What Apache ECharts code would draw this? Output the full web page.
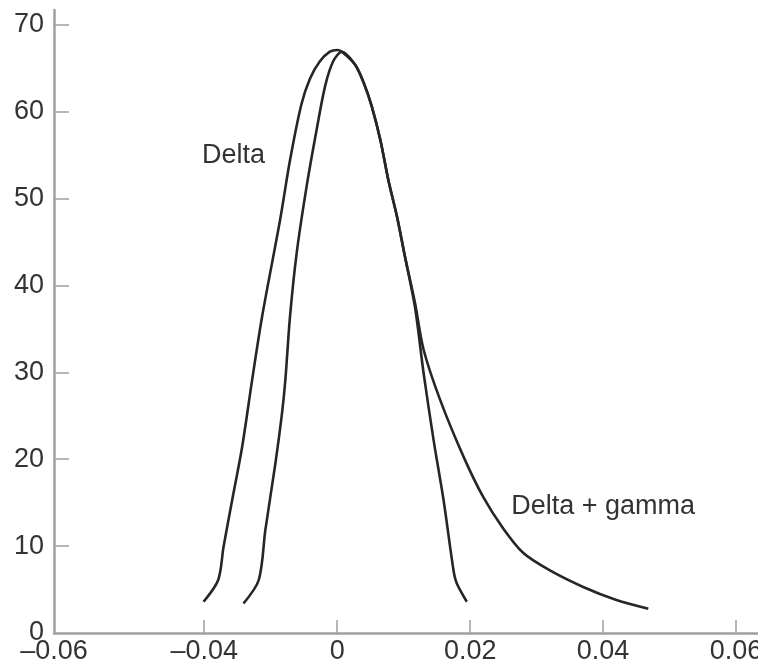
<!DOCTYPE html>
<html>
<head>
<meta charset="utf-8">
<script src="https://cdn.jsdelivr.net/npm/echarts@6/dist/echarts.min.js"></script>
<style>
  html, body { margin: 0; padding: 0; background: #fff; }
  #chart { width: 758px; height: 669px; }
</style>
</head>
<body>
<div id="chart"></div>
<script>
// Delta-only distribution (symmetric)
var deltaX = [-0.0201, -0.0179, -0.0171, -0.0156, -0.0143, -0.0128, -0.0113, -0.0086, -0.0071,
              -0.0054, -0.0041, -0.0026, -0.0011, 0.0000, 0.0007, 0.0027, 0.0040, 0.0052,
              0.0065, 0.0077, 0.0090, 0.0102, 0.0117, 0.0130, 0.0145, 0.0160,
              0.0175, 0.0180, 0.0195];
var deltaY = [3.6, 6.1, 9.9, 16.1, 21.4, 29.1, 36.4, 47.5, 54.4,
              60.8, 63.8, 65.8, 66.9, 67.1, 66.9, 65.4, 63.3, 60.6,
              56.7, 52.1, 47.9, 43.3, 37.5, 29.9, 22.2, 15.3,
              7.2, 5.7, 3.6];

// Delta + gamma distribution (skewed to the right)
var gammaX = [-0.0141, -0.0118, -0.0108, -0.0093, -0.0083, -0.0078, -0.0071, -0.0061, -0.0046,
              -0.0031, -0.0018, -0.0006, 0.0007, 0.0027, 0.0040, 0.0052, 0.0065, 0.0077,
              0.0090, 0.0102, 0.0117, 0.0130, 0.0155, 0.0190, 0.0220, 0.0250,
              0.0280, 0.0320, 0.0370, 0.0420, 0.0468];
var gammaY = [3.4, 6.1, 11.9, 19.5, 25.3, 29.1, 36.4, 43.7, 51.4,
              57.9, 63.0, 65.8, 66.9, 65.4, 63.3, 60.6, 56.7, 52.1,
              47.9, 43.3, 38.0, 32.6, 26.8, 20.3, 15.6, 12.0,
              9.2, 7.2, 5.3, 3.8, 2.8];

// Horizontal axis: tick positions and the text printed under them
var xMin = -0.0426;
var xMax = 0.0633;
var xTickValues = [-0.02, 0, 0.02, 0.04, 0.06];
var xLabelValues = [xMin, -0.02, 0, 0.02, 0.04, 0.06];
var xTickLabels = ['\u20130.06', '\u20130.04', '0', '0.02', '0.04', '0.06'];

// Vertical axis
var yMax = 71.7;
var yTickValues = [10, 20, 30, 40, 50, 60, 70];
var yLabelValues = [0, 10, 20, 30, 40, 50, 60, 70];

// Curve annotations
var seriesNames = ['Delta', 'Delta + gamma'];
var nameAnchors = [[-0.0156, 55.0], [0.0400, 14.5]];

function zip(xs, ys) {
  return xs.map(function (x, i) { return [x, ys[i]]; });
}

var FONT = '"Liberation Sans", Arial, Helvetica, sans-serif';
var FONT_SIZE = 27;
var AXIS_COLOR = '#a0a0a0';
var TEXT_COLOR = '#333333';
var LINE_COLOR = '#262626';

function nameLabel(i) {
  return {
    symbol: 'none',
    silent: true,
    data: [{
      coord: nameAnchors[i],
      symbol: 'circle',
      symbolSize: 0,
      label: {
        show: true,
        position: 'inside',
        formatter: seriesNames[i],
        fontFamily: FONT,
        fontSize: FONT_SIZE,
        color: TEXT_COLOR
      }
    }]
  };
}

var chart = echarts.init(document.getElementById('chart'), null, { renderer: 'canvas' });

chart.setOption({
  animation: false,
  backgroundColor: '#ffffff',
  grid: {
    left: 54, right: 0, top: 10, bottom: 36,
    containLabel: false,
    outerBoundsMode: 'none'
  },
  xAxis: {
    type: 'value',
    min: xMin,
    max: xMax,
    splitLine: { show: false },
    axisLine: { show: true, onZero: false, lineStyle: { color: AXIS_COLOR, width: 2.5 } },
    axisTick: {
      show: true, inside: true, length: 13,
      customValues: xTickValues,
      lineStyle: { color: AXIS_COLOR, width: 1.5 }
    },
    axisLabel: {
      show: true,
      customValues: xLabelValues,
      margin: 5,
      fontFamily: FONT,
      fontSize: FONT_SIZE,
      color: TEXT_COLOR,
      formatter: function (v) {
        var best = 0, d = Infinity;
        for (var i = 0; i < xLabelValues.length; i++) {
          var dd = Math.abs(xLabelValues[i] - v);
          if (dd < d) { d = dd; best = i; }
        }
        return xTickLabels[best];
      }
    }
  },
  yAxis: {
    type: 'value',
    min: 0,
    max: yMax,
    splitLine: { show: false },
    axisLine: { show: true, onZero: false, lineStyle: { color: AXIS_COLOR, width: 2.5 } },
    axisTick: {
      show: true, inside: true, length: 15,
      customValues: yTickValues,
      lineStyle: { color: AXIS_COLOR, width: 1.5 }
    },
    axisLabel: {
      show: true,
      customValues: yLabelValues,
      margin: 10,
      fontFamily: FONT,
      fontSize: FONT_SIZE,
      color: TEXT_COLOR
    }
  },
  series: [
    {
      name: seriesNames[0],
      type: 'line',
      data: zip(deltaX, deltaY),
      showSymbol: false,
      smooth: 0.3,
      lineStyle: { color: LINE_COLOR, width: 2.6 },
      markPoint: nameLabel(0)
    },
    {
      name: seriesNames[1],
      type: 'line',
      data: zip(gammaX, gammaY),
      showSymbol: false,
      smooth: 0.3,
      lineStyle: { color: LINE_COLOR, width: 2.6 },
      markPoint: nameLabel(1)
    }
  ]
});
</script>
</body>
</html>
